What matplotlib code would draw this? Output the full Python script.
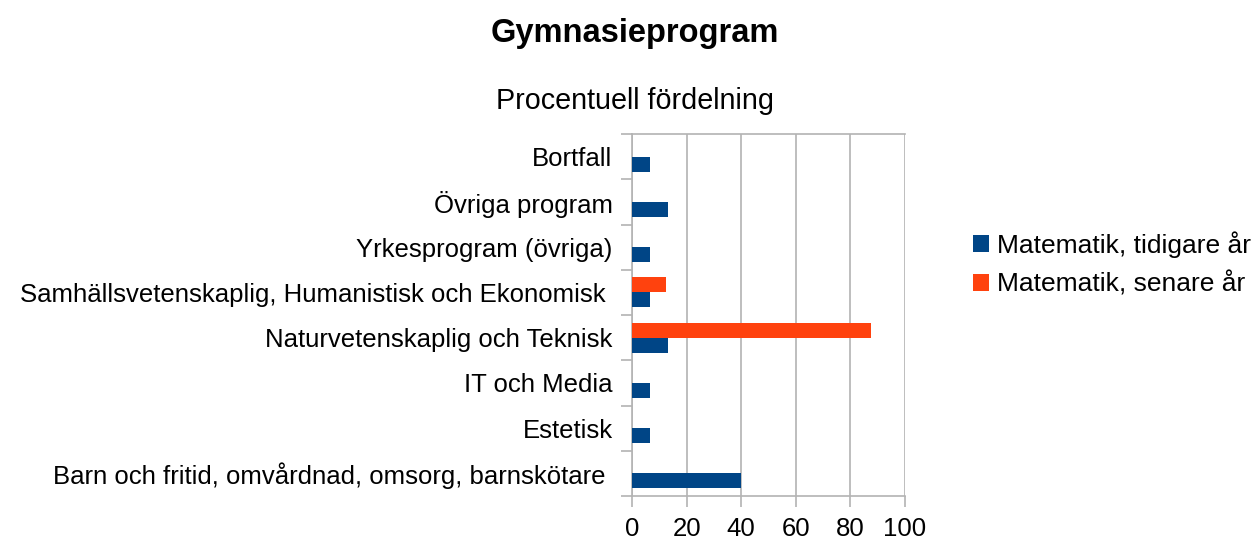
import matplotlib.pyplot as plt
import numpy as np

plt.rcParams['font.family'] = ['Liberation Sans', 'DejaVu Sans']

# categories, bottom to top
categories = ['Barn och fritid, omvårdnad, omsorg, barnskötare ',
              'Estetisk',
              'IT och Media',
              'Naturvetenskaplig och Teknisk',
              'Samhällsvetenskaplig, Humanistisk och Ekonomisk ',
              'Yrkesprogram (övriga)',
              'Övriga program',
              'Bortfall']
tidigare = [40.0, 6.67, 6.67, 13.33, 6.67, 6.67, 13.33, 6.67]
senare = [0, 0, 0, 87.5, 12.5, 0, 0, 0]
series_names = ['Matematik, tidigare år', 'Matematik, senare år']
xticks = [0, 20, 40, 60, 80, 100]

blue = '#004586'
orange = '#ff420e'
grey = '#b3b3b3'

fig = plt.figure(figsize=(12.52, 5.43), dpi=100)
ax = fig.add_axes([632/1252, 1-496/543, (905-632)/1252, (496-134)/543])

y = np.arange(len(categories))
h = 1/3
ax.barh(y - h/2, tidigare, height=h, color=blue, label=series_names[0], zorder=3)
ax.barh(y + h/2, senare, height=h, color=orange, label=series_names[1], zorder=3)

ax.set_xlim(0, 100)
ax.set_ylim(-0.5, len(categories) - 0.5)
ax.set_xticks(xticks)
ax.set_xticklabels([str(t) for t in xticks], fontsize=18.5)
ax.xaxis.grid(True, color=grey, linewidth=1.2, zorder=0)
ax.set_yticks(y)
ax.set_yticklabels(categories, fontsize=18.5)
ax.set_yticks(np.arange(len(categories) + 1) - 0.5, minor=True)
ax.tick_params(axis='y', which='major', length=0, pad=14)
ax.tick_params(axis='y', which='minor', length=8, color=grey, width=1.2)
ax.tick_params(axis='x', length=8, color=grey, width=1.2, pad=7)

for s in ['top', 'bottom', 'left', 'right']:
    ax.spines[s].set_color(grey)
    ax.spines[s].set_linewidth(1.2)
ax.spines['right'].set_visible(False)

fig.text(0.507, 0.939, 'Gymnasieprogram', ha='center', va='center',
         fontsize=23.5, fontweight='bold')
fig.text(0.507, 0.814, 'Procentuell fördelning', ha='center', va='center',
         fontsize=20.7)

handles, labels = ax.get_legend_handles_labels()
fig.legend(handles, labels, loc='center left', bbox_to_anchor=(973/1252, 0.514),
           frameon=False, fontsize=19, handlelength=0.6, handleheight=0.6,
           handletextpad=0.3, labelspacing=0.5, borderpad=0, borderaxespad=0)

fig.savefig('out.png', dpi=100)
